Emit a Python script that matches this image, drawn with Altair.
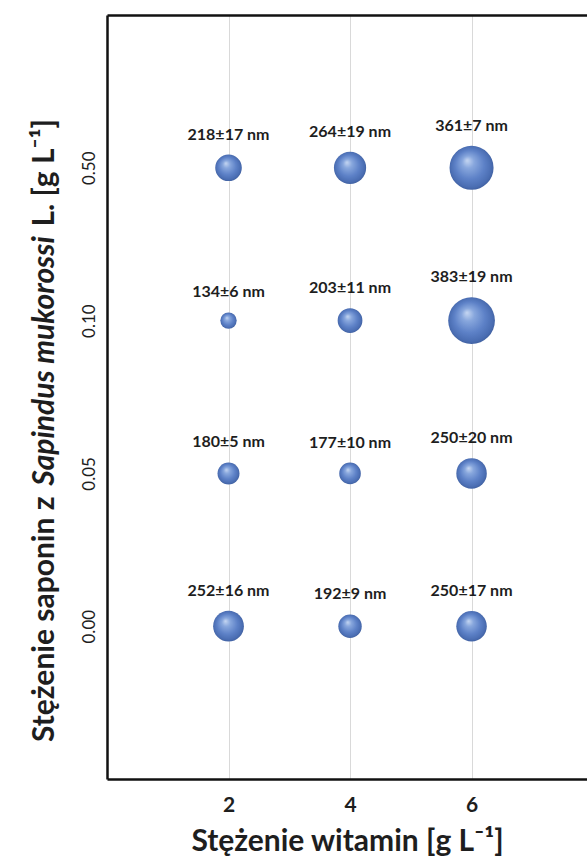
import altair as alt
import pandas as pd

# vitamin concentration (x) and saponin concentration levels (y rows)
witamin = [2, 4, 6]
saponin = ["0.00", "0.05", "0.10", "0.50"]

# mean particle diameter [nm] and its spread, one list per saponin level
d_000 = [252, 192, 250]
sd_000 = [16, 9, 17]
d_005 = [180, 177, 250]
sd_005 = [5, 10, 20]
d_010 = [134, 203, 383]
sd_010 = [6, 11, 19]
d_050 = [218, 264, 361]
sd_050 = [17, 19, 7]

rows = []
for level, ds, sds in zip(saponin,
                          [d_000, d_005, d_010, d_050],
                          [sd_000, sd_005, sd_010, sd_050]):
    for w, d, sd in zip(witamin, ds, sds):
        rows.append({"wit": w, "sap": level, "d": d, "sd": sd,
                     "label": f"{d}\u00b1{sd} nm"})
df = pd.DataFrame(rows)

FONT = "Lato"
INK = "#1e1e1e"
W, H = 480, 764

x_scale = alt.Scale(domain=[0, 7.9], nice=False, zero=False)
y_scale = alt.Scale(type="point", padding=1)
y_axis = alt.Axis(title=None, ticks=False, labelPadding=9, labelAngle=270,
                  labelAlign="center", labelBaseline="bottom",
                  labelFont=FONT, labelFontSize=17, labelColor=INK,
                  domainColor="#111111", domainWidth=2.5,
                  gridColor="#d9d9d9", gridWidth=1)
y_enc = alt.Y("sap:O", sort="descending", scale=y_scale, axis=y_axis)

sphere = alt.RadialGradient(
    gradient="radial",
    x1=0.4, y1=0.33, r1=0.0,
    x2=0.5, y2=0.5, r2=0.55,
    stops=[
        alt.GradientStop(offset=0.0, color="#c6d7f2"),
        alt.GradientStop(offset=0.25, color="#88a7dd"),
        alt.GradientStop(offset=0.6, color="#5d81c7"),
        alt.GradientStop(offset=0.85, color="#4a6db2"),
        alt.GradientStop(offset=1.0, color="#3a5894"),
    ],
)

bubbles = alt.Chart(df).mark_circle(color=sphere, opacity=1).encode(
    x=alt.X("wit:Q", scale=x_scale,
            axis=alt.Axis(values=witamin, title="Stężenie witamin [g L⁻¹]",
                          orient="bottom", ticks=False, labelPadding=15,
                          labelFont=FONT, labelFontSize=21, labelFontWeight="bold",
                          labelColor=INK,
                          titleFont=FONT, titleFontSize=30, titleFontWeight="bold",
                          titleColor=INK, titlePadding=11,
                          domainColor="#111111", domainWidth=2.5,
                          gridColor="#d9d9d9", gridWidth=1)),
    y=y_enc,
    size=alt.Size("d:Q", scale=alt.Scale(type="pow", exponent=2,
                                         domain=[0, 400], range=[0, 2381]),
                  legend=None),
)

# size labels sit above each sphere, lifted by its radius plus a gap
labels = alt.Chart(df).transform_calculate(
    off="-(20 + 0.061 * datum.d)"
).mark_text(font=FONT, fontSize=16, fontWeight="bold", color=INK,
            baseline="middle").encode(
    x=alt.X("wit:Q", scale=x_scale,
            axis=alt.Axis(orient="top", labels=False, ticks=False, grid=False,
                          title=None, domainColor="#111111", domainWidth=2.5)),
    y=y_enc,
    yOffset=alt.YOffset("off:Q", scale=None),
    text="label:N",
)

# y-axis title in three runs so the species name can be italic
t_style = dict(font=FONT, fontSize=30, fontWeight="bold", color=INK,
               angle=270, baseline="middle")
title_a = alt.Chart(pd.DataFrame({"t": ["Stężenie saponin z"]})).mark_text(
    align="left", **t_style).encode(text="t:N", x=alt.value(-62), y=alt.value(727))
title_b = alt.Chart(pd.DataFrame({"t": ["Sapindus mukorossi"]})).mark_text(
    align="center", fontStyle="italic", **t_style).encode(
    text="t:N", x=alt.value(-62), y=alt.value(346))
title_c = alt.Chart(pd.DataFrame({"t": ["L. [g L⁻¹]"]})).mark_text(
    align="right", **t_style).encode(text="t:N", x=alt.value(-62), y=alt.value(104))

chart = alt.layer(bubbles, labels, title_a, title_b, title_c).resolve_axis(
    x="independent"
).properties(
    width=W, height=H,
    autosize=alt.AutoSizeParams(type="none"),
    padding={"left": 107, "top": 15, "right": 0, "bottom": 82},
    background="white",
).configure_view(stroke=None)

chart.save("out.html", embed_options={"renderer": "svg", "actions": False})
